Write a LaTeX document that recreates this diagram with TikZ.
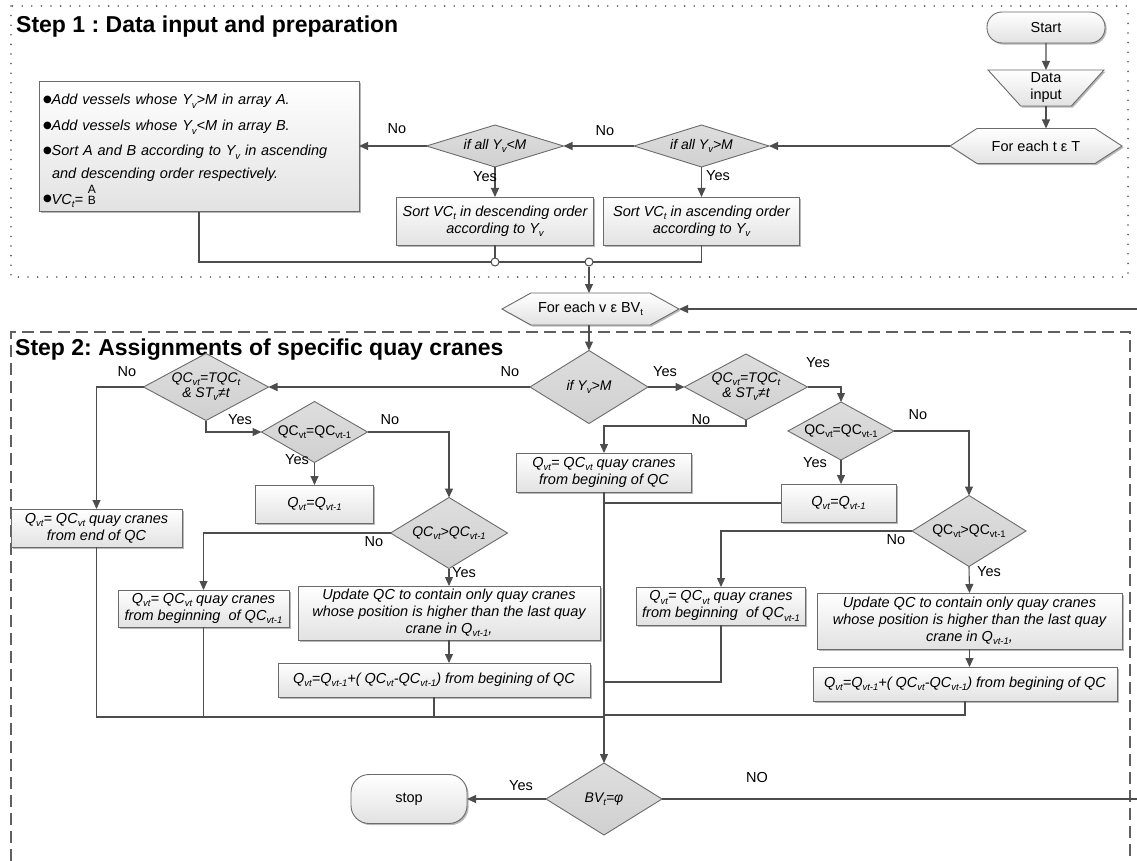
\documentclass[tikz,border=0pt]{standalone}
\usepackage{fontspec}
\setmainfont{Liberation Sans}
\newfontfamily\dejavu{DejaVu Sans}
\usetikzlibrary{arrows.meta,shapes.geometric,shapes.symbols,shadows}
\definecolor{lnc}{HTML}{4D4D4D}
\definecolor{bdc}{HTML}{6B6B6B}
\definecolor{boxb}{HTML}{E2E2E2}
\definecolor{diat}{HTML}{DEDEDE}
\definecolor{diab}{HTML}{D0D0D0}
\definecolor{dotc}{HTML}{5A5A5A}
\newcommand{\sbs}[1]{\raisebox{-0.22em}{\fontsize{9.5}{9.5}\selectfont #1}}
\newcommand{\bul}{\raisebox{2.6pt}{\upshape\dejavu\fontsize{10}{10}\selectfont ●}}
\frenchspacing
\begin{document}
\begin{tikzpicture}[x=1pt,y=-1pt,
 every node/.style={font=\fontsize{14.5}{17}\selectfont},
 conn/.style={draw=lnc, line width=1.1pt},
 arr/.style={conn, -{Triangle[length=9pt,width=8pt]}},
 shd/.style={drop shadow={shadow xshift=1.6pt,shadow yshift=-1.6pt,opacity=0.28,fill=black}},
 box/.style={rectangle, draw=bdc, line width=0.9pt, top color=white, bottom color=boxb, shd, inner sep=2pt, outer sep=0pt, align=center, font=\fontsize{14.5}{17}\selectfont\itshape},
 dia/.style 2 args={diamond, draw=bdc, line width=0.9pt, top color=diat, bottom color=diab, minimum width=#1, minimum height=#2, inner sep=0pt, outer sep=0pt},
 dtxt/.style={inner sep=0pt, align=center, font=\fontsize{14}{15}\selectfont\itshape},
 utxt/.style={inner sep=0pt, align=center, font=\fontsize{14}{15}\selectfont},
 lbl/.style={inner sep=0pt, font=\fontsize{14.5}{17}\selectfont},
 hexa/.style 2 args={signal, signal to=west and east, signal pointer angle=#2, minimum width=#1, draw=bdc, line width=0.9pt, top color=white, bottom color=boxb, shd, inner sep=0pt, outer sep=0pt},
 term/.style={rectangle, draw=bdc, line width=0.9pt, top color=white, bottom color=boxb, shd, outer sep=0pt},
 jc/.style={circle, draw=lnc, line width=1pt, fill=white, minimum size=8pt, inner sep=0pt},
 title/.style={inner sep=0pt, font=\fontsize{23}{27}\selectfont\bfseries},
 dotborder/.style={draw=dotc, line width=1.8pt, line cap=round, dash pattern=on 0pt off 9.6pt},
 dashborder/.style={draw=gray!75!black, line width=1.2pt, dash pattern=on 12pt off 6pt},
]
\useasboundingbox (0,0) rectangle (1137,861);
\fill[white] (0,0) rectangle (1137,861);

% ---------- borders and titles ----------
\draw[dotborder] (11,6) rectangle (1128,277);
\draw[dashborder] (11,861) -- (11,332) -- (1130,332) -- (1130,861);
\node[title, anchor=base west] (t1) at (16,32.5) {Step 1 : Data input and preparation};
\node[title, anchor=base west] (t2) at (15,355) {Step 2: Assignments of specific quay cranes};

% ---------- Step 1 ----------
\node[term, rounded corners=15pt, minimum width=118, minimum height=31] (start) at (1046,27.5) {Start};
\node[trapezium, trapezium angle=56, shape border rotate=180, trapezium stretches=true,
      minimum width=116, minimum height=36, draw=bdc, line width=0.9pt, top color=white,
      bottom color=boxb, shd, inner sep=0pt, outer sep=0pt, align=center,
      font=\fontsize{14.5}{17}\selectfont] (data) at (1046,88) {Data\\input};
\node[hexa={172}{66}, minimum height=35] (fort) at (1036,146) {For each t ε T};
\node[dia={135}{42}, label={[dtxt,name=dAllt]center:{if all Y\sbs{v}>M}}] (dAll) at (701.5,146) {};
\node[dia={137}{42}, label={[dtxt,name=dAllLt]center:{if all Y\sbs{v}<M}}] (dAllL) at (495,146) {};
\node[box, anchor=north west, text width=312, minimum height=127, align=left, inner sep=4pt] (s1box) at (39,81)
 {\rule{0pt}{20pt}\bul Add vessels whose Y\sbs{v}>M in array A.\\[9pt]
  \bul Add vessels whose Y\sbs{v}<M in array B.\\[8pt]
  \bul Sort A and B according to Y\sbs{v} in ascending\\[6pt]
  \hspace*{9pt}and descending order respectively.\\[2pt]
  \bul VC\sbs{t}= {\upshape\fontsize{12}{11}\selectfont\shortstack{A\\B}}};
\node[box, minimum width=197, minimum height=48] (sortD) at (495,221) {Sort VC\sbs{t} in descending order\\according to Y\sbs{v}};
\node[box, minimum width=196, minimum height=48] (sortA) at (701.5,221) {Sort VC\sbs{t} in ascending order\\according to Y\sbs{v}};
\node[hexa={177}{58}, minimum height=32] (forv) at (590.5,309) {For each v ε BV\sbs{t}};

\draw[arr] (start) -- (data);
\draw[arr] (data.south) -- (data.south |- fort.north);
\draw[arr] (fort.west) -- (dAll.east);
\draw[arr] (dAll.west) -- (dAllL.east);
\draw[arr] (dAllL.west) -- (dAllL.west -| s1box.east);
\draw[arr] (dAllL.south) -- (sortD.north);
\draw[arr] (dAll.south) -- (sortA.north);
\coordinate (jl) at (495,262);
\coordinate (jr) at (589,262);
\draw[conn] (s1box.south) |- (jr);
\draw[conn] (sortD.south) -- (jl);
\draw[conn] (sortA.south) |- (jr);
\node[jc] (c1) at (jl) {};
\node[jc] (c2) at (jr) {};
\draw[arr] (c2.south) -- (c2.south |- forv.north);
\node[lbl] (l1) at (605,131) {No};
\node[lbl] (l2) at (397,129) {No};
\node[lbl] (l3) at (485,177) {Yes};
\node[lbl] (l4) at (718,176) {Yes};

% ---------- Step 2 ----------
\node[dia={118}{73}, label={[dtxt,name=dIft]center:{if Y\sbs{v}>M}}] (dIf) at (589,387) {};
\node[dia={125}{67}, label={[dtxt,name=dQLt]center:{QC\sbs{vt}=TQC\sbs{t}\\\& ST\sbs{v}≠t}}] (dQL) at (206,387) {};
\node[dia={123}{66}, label={[dtxt,name=dQRt]center:{QC\sbs{vt}=TQC\sbs{t}\\\& ST\sbs{v}≠t}}] (dQR) at (746,387) {};
\node[dia={106}{61}, label={[utxt,name=dEqLt]center:{QC\sbs{vt}=QC\sbs{vt-1}}}] (dEqL) at (314.5,432) {};
\node[dia={106}{58}, label={[utxt,name=dEqRt]center:{QC\sbs{vt}=QC\sbs{vt-1}}}] (dEqR) at (841,431) {};
\node[dia={117}{71}, label={[dtxt,name=dGtLt]center:{QC\sbs{vt}>QC\sbs{vt-1}}}] (dGtL) at (449,533) {};
\node[dia={114}{71}, label={[utxt,name=dGtRt]center:{QC\sbs{vt}>QC\sbs{vt-1}}}] (dGtR) at (969,531) {};
\node[dia={116}{72}, label={[dtxt,name=BVt]center:{BV\sbs{t}=φ}}] (BV) at (604,799) {};

\node[box, minimum width=171, minimum height=38] (endbox) at (96.5,528) {Q\sbs{vt}= QC\sbs{vt} quay cranes\\from end of QC};
\node[box, minimum width=118, minimum height=38] (qqL) at (314.5,504) {Q\sbs{vt}=Q\sbs{vt-1}};
\node[box, minimum width=171, minimum height=37] (begL) at (203.5,608.5) {Q\sbs{vt}= QC\sbs{vt} quay cranes\\from beginning\ \ of QC\sbs{vt-1}};
\node[box, minimum width=302, minimum height=54] (updL) at (449,613) {Update QC to contain only quay cranes\\whose position is higher than the last quay\\crane in Q\sbs{vt-1},};
\node[box, minimum width=312, minimum height=34] (formL) at (434,680) {Q\sbs{vt}=Q\sbs{vt-1}+( QC\sbs{vt}-QC\sbs{vt-1}) from begining of QC};

\node[box, minimum width=175, minimum height=39] (begR) at (604,472.5) {Q\sbs{vt}= QC\sbs{vt} quay cranes\\from begining of QC};
\node[box, minimum width=115, minimum height=38] (qqR) at (838.5,503) {Q\sbs{vt}=Q\sbs{vt-1}};
\node[box, minimum width=169, minimum height=38] (begR2) at (721,606) {Q\sbs{vt}= QC\sbs{vt} quay cranes\\from beginning\ \ of QC\sbs{vt-1}};
\node[box, minimum width=305, minimum height=56] (updR) at (969.5,621) {Update QC to contain only quay cranes\\whose position is higher than the last quay\\crane in Q\sbs{vt-1},};
\node[box, minimum width=304, minimum height=34] (formR) at (965,684) {Q\sbs{vt}=Q\sbs{vt-1}+( QC\sbs{vt}-QC\sbs{vt-1}) from begining of QC};

\node[term, rounded corners=18pt, minimum width=116, minimum height=49] (stop) at (409,799) {stop};

\coordinate (redge1) at (1137,309);
\coordinate (redge2) at (1137,799);
\coordinate (ml) at (604,717);
\coordinate (jr1) at (604,682);
\coordinate (jr2) at (604,715);

\draw[arr] (redge1) -- (forv.east);
\draw[arr] (dIf.north |- forv.south) -- (dIf.north);
\draw[arr] (dIf.west) -- (dQL.east);
\draw[arr] (dIf.east) -- (dQR.west);
\draw[arr] (dQL.west) -| (endbox.north);
\draw[arr] (dQL.south) |- (dEqL.west);
\draw[arr] (dEqL.east) -| (dGtL.north);
\draw[arr] (dEqL.south) -- (qqL.north);
\draw[arr] (dGtL.west) -| (begL.north);
\draw[arr] (dGtL.south) -- (updL.north);
\draw[arr] (updL.south) -- (updL.south |- formL.north);
\draw[conn] (endbox.south) |- (ml);
\draw[conn] (begL.south) -- (begL.south |- ml);
\draw[conn] (formL.south) -- (formL.south |- ml);

\draw[arr] (dQR.south) -- ++(0,6) -| (begR.north);
\draw[arr] (dQR.east) -| (dEqR.north);
\draw[arr] (dEqR.south) -- (dEqR.south |- qqR.north);
\draw[arr] (dEqR.east) -| (dGtR.north);
\draw[arr] (dGtR.west) -| (begR2.north);
\draw[arr] (dGtR.south) -- (updR.north);
\draw[arr] (updR.south) -- (updR.south |- formR.north);
\draw[conn] (qqR.west) -- (qqR.west -| begR.south);
\draw[conn] (begR2.south) |- (jr1);
\draw[conn] (formR.south) |- (jr2);
\draw[arr] (begR.south) -- (BV.north);
\draw[arr] (BV.west) -- (stop.east);
\draw[conn] (BV.east) -- (redge2);

\node[lbl] (m1) at (127,372) {No};
\node[lbl] (m2) at (510,372) {No};
\node[lbl] (m3) at (665,372) {Yes};
\node[lbl] (m4) at (818,363) {Yes};
\node[lbl] (m5) at (240,420) {Yes};
\node[lbl] (m6) at (390,420) {No};
\node[lbl] (m7) at (297,460) {Yes};
\node[lbl] (m8) at (701,420) {No};
\node[lbl] (m9) at (918,415) {No};
\node[lbl] (m10) at (815,463) {Yes};
\node[lbl] (m11) at (374,542) {No};
\node[lbl] (m12) at (464,573) {Yes};
\node[lbl] (m13) at (896,540) {No};
\node[lbl] (m14) at (989,572) {Yes};
\node[lbl] (m15) at (521,786) {Yes};
\node[lbl] (m16) at (757,777) {NO};
\end{tikzpicture}
\end{document}
